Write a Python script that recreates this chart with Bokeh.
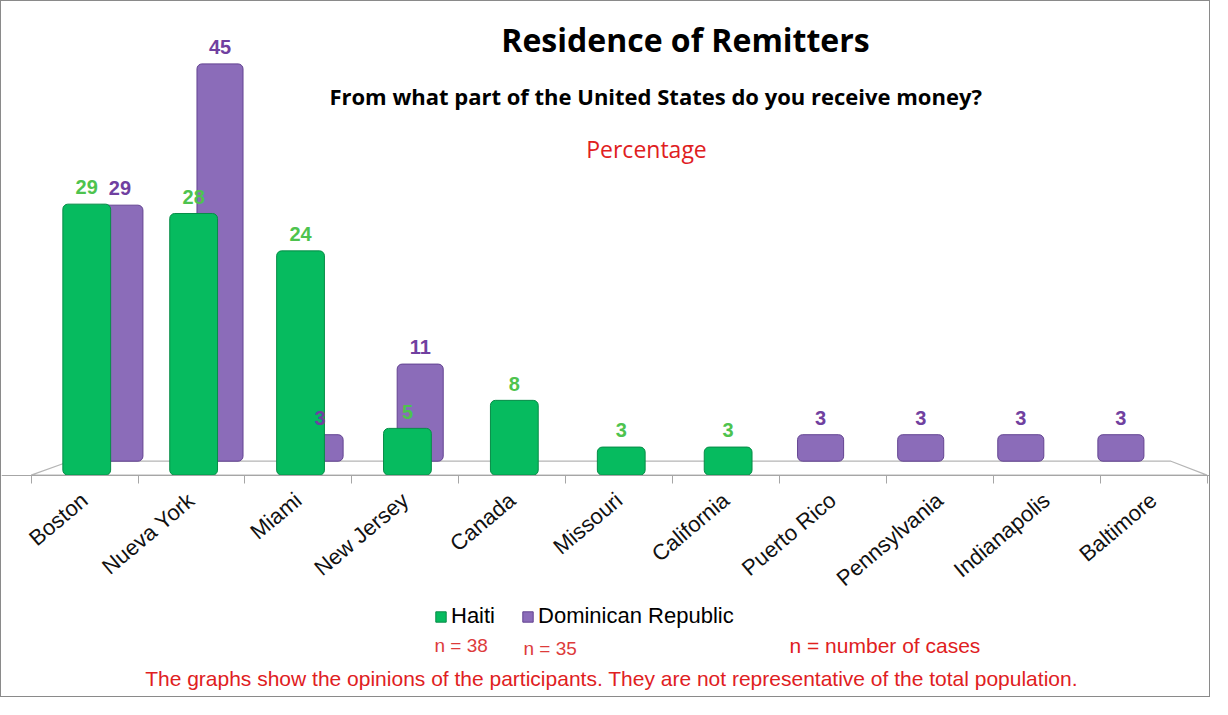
import numpy as np
from bokeh.plotting import figure
from bokeh.models import (Range1d, FixedTicker, Label, Legend, LegendItem,
                          ColumnDataSource)
from bokeh.embed import file_html
from bokeh.resources import INLINE
from bokeh.core.properties import value

# ---------------- data ----------------
cities = ["Boston", "Nueva York", "Miami", "New Jersey", "Canada", "Missouri",
          "California", "Puerto Rico", "Pennsylvania", "Indianapolis", "Baltimore"]
haiti = [29, 28, 24, 5, 8, 3, 3, 0, 0, 0, 0]
dominican = [29, 45, 3, 11, 0, 0, 0, 3, 3, 3, 3]
series_names = ["Haiti", "Dominican Republic"]
sample_sizes = ["n = 38", "n = 35"]
title_text = "Residence of Remitters"
subtitle_text = "From what part of the United States  do you receive money?"
unit_text = "Percentage"
n_note = "n = number of cases"
footnote = ("The graphs show the opinions of the participants. "
            "They are not representative of the total population.")

# ---------------- layout (canvas pixels) ----------------
W, H = 1210, 697
# front row: category centre at canvas x = 83.1 + 106.9*i, value 0 at y = 473.6
F_X0, F_DX = 83.1, 106.9
F_Y0, F_DY = 473.6, 9.343
# back row (perspective): centre at 118.4 + 100.1*i, value 0 at y = 459.7
B_X0, B_DX = 118.4, 100.1
B_Y0, B_DY = 459.7, 8.829

X_RANGE = (-F_X0 / F_DX, (W - F_X0) / F_DX)
Y_RANGE = (-(H - F_Y0) / F_DY, F_Y0 / F_DY)
BX_RANGE = (-B_X0 / B_DX, (W - B_X0) / B_DX)
BY_RANGE = (-(H - B_Y0) / B_DY, B_Y0 / B_DY)

def dx(cx):
    return X_RANGE[0] + cx / F_DX

def dy(cy):
    return Y_RANGE[1] - cy / F_DY

GREEN, GREEN_EDGE, GREEN_TXT = "#06bb5f", "#078c47", "#4ec34e"
PURPLE, PURPLE_EDGE, PURPLE_TXT = "#8b6cb9", "#634391", "#7040a0"
RED = "#e0201e"
FONT = "Liberation Sans"
TFONT = "Open Sans"

p = figure(width=W, height=H, output_backend="svg", toolbar_location=None,
           x_range=Range1d(*X_RANGE), y_range=Range1d(*Y_RANGE),
           y_axis_location=None, x_axis_location="below",
           min_border_left=0, min_border_right=0, min_border_top=0,
           min_border_bottom=0)
p.extra_x_ranges = {"back": Range1d(*BX_RANGE)}
p.extra_y_ranges = {"back": Range1d(*BY_RANGE)}
p.grid.visible = False
p.outline_line_color = None
p.background_fill_color = "white"
p.border_fill_color = "white"
p.styles = {"border": "1px solid #8a8a8a"}

# floor of the 3-D chart
back_edge_y = (F_Y0 - B_Y0) / F_DY
p.patch(x=[-0.5, 10.5, dx(B_X0 + 10.5 * B_DX), dx(B_X0 - 0.5 * B_DX)],
        y=[0, 0, back_edge_y, back_edge_y],
        fill_color="white", line_color="#b5b5b5", line_width=1.2)

idx = np.arange(len(cities))

# back row: Dominican Republic
dvals = np.array(dominican)
dmask = dvals > 0
dsrc = ColumnDataSource(dict(x=idx[dmask], top=dvals[dmask],
                             ly=dvals[dmask] + 1.1,
                             txt=[str(v) for v in dvals[dmask]]))
dr = p.vbar(x="x", top="top", bottom=0, width=0.46, source=dsrc,
            x_range_name="back", y_range_name="back",
            fill_color=PURPLE, line_color=PURPLE_EDGE, line_width=1,
            border_radius=5)

# front row: Haiti
hvals = np.array(haiti)
hmask = hvals > 0
hsrc = ColumnDataSource(dict(x=idx[hmask] + 0.02, top=hvals[hmask],
                             ly=hvals[hmask] + 1.05,
                             txt=[str(v) for v in hvals[hmask]]))
hr = p.vbar(x="x", top="top", bottom=0, width=0.447, source=hsrc,
            fill_color=GREEN, line_color=GREEN_EDGE, line_width=1,
            border_radius=5)

# value labels
p.text(x="x", y="ly", text="txt", source=dsrc, x_range_name="back",
       y_range_name="back", text_align="center", text_baseline="bottom",
       text_color=PURPLE_TXT, text_font=value(FONT), text_font_style="bold",
       text_font_size="20px")
p.text(x="x", y="ly", text="txt", source=hsrc, text_align="center",
       text_baseline="bottom", text_color=GREEN_TXT, text_font=value(FONT),
       text_font_style="bold", text_font_size="20px")

# category axis, drawn at value 0 inside the frame
ax = p.xaxis[0]
ax.fixed_location = 0
ax.ticker = FixedTicker(ticks=list(range(len(cities))),
                        minor_ticks=[i - 0.5 for i in range(len(cities) + 1)])
ax.major_label_overrides = {i: c for i, c in enumerate(cities)}
ax.axis_line_color = "#a6a6a6"
ax.major_tick_line_color = None
ax.major_tick_in = 0
ax.major_tick_out = 0
ax.minor_tick_line_color = "#a6a6a6"
ax.minor_tick_in = 0
ax.minor_tick_out = 8
ax.major_label_orientation = 0.70
ax.major_label_standoff = 14
ax.major_label_text_font = FONT
ax.major_label_text_font_size = "22px"
ax.major_label_text_color = "#111111"

# titles
p.add_layout(Label(x=dx(684), y=dy(38), text=title_text, text_align="center",
                   text_baseline="middle", text_font=TFONT, text_font_style="bold",
                   text_font_size="32px", text_color="black"))
p.add_layout(Label(x=dx(657), y=dy(94), text=subtitle_text, text_align="center",
                   text_baseline="middle", text_font=TFONT, text_font_style="bold",
                   text_font_size="22px", text_color="black"))
p.add_layout(Label(x=dx(645), y=dy(147), text=unit_text, text_align="center",
                   text_baseline="middle", text_font=TFONT,
                   text_font_size="23px", text_color=RED))

# legend
legend = Legend(items=[LegendItem(label=series_names[0], renderers=[hr]),
                       LegendItem(label=series_names[1], renderers=[dr])],
                location=(433, H - 628), orientation="horizontal",
                padding=0, margin=0, spacing=26, label_standoff=4,
                glyph_width=13, glyph_height=13, label_height=24,
                border_line_color=None, background_fill_alpha=0,
                label_text_font=FONT, label_text_font_size="22px",
                label_text_color="black")
p.add_layout(legend)

# notes below
p.add_layout(Label(x=dx(433), y=dy(644), text=sample_sizes[0], text_baseline="middle",
                   text_font=FONT, text_font_size="19px", text_color="#dd3b3b"))
p.add_layout(Label(x=dx(522), y=dy(647), text=sample_sizes[1], text_baseline="middle",
                   text_font=FONT, text_font_size="19px", text_color="#dd3b3b"))
p.add_layout(Label(x=dx(788), y=dy(644), text=n_note, text_baseline="middle",
                   text_font=FONT, text_font_size="21px", text_color=RED))
p.add_layout(Label(x=dx(610), y=dy(677), text=footnote, text_align="center",
                   text_baseline="middle", text_font=FONT,
                   text_font_size="21px", text_color=RED))

open("out.html", "w").write(file_html(p, INLINE))
